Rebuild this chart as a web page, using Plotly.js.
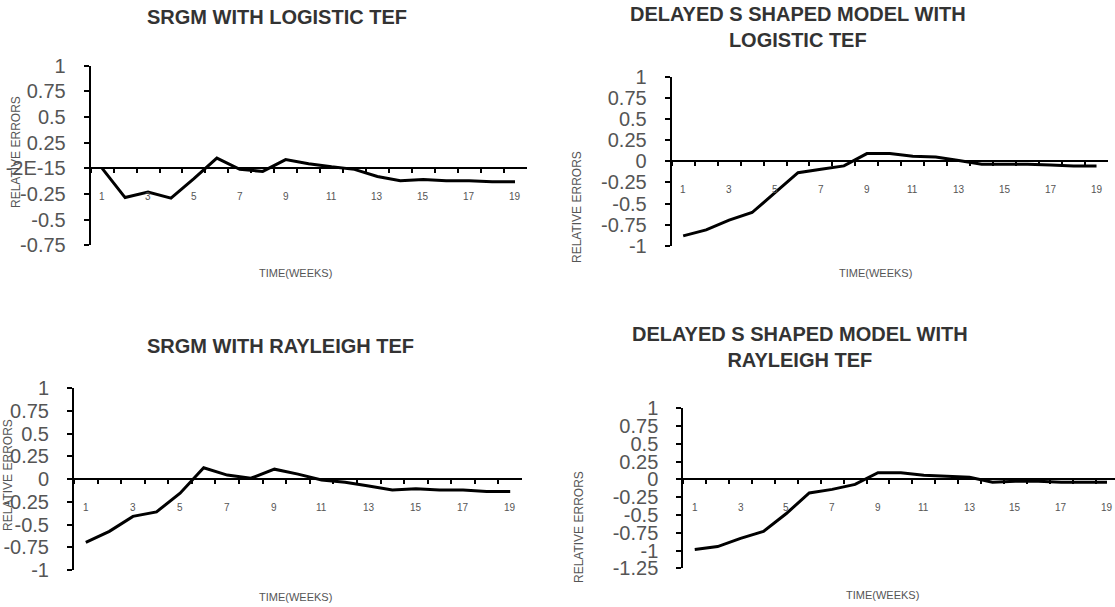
<!DOCTYPE html>
<html>
<head>
<meta charset="utf-8">
<script src="https://cdn.plot.ly/plotly-3.0.1.min.js"></script>
<style>html,body{margin:0;padding:0;background:#fff;}#chart{width:1115px;height:607px;}</style>
</head>
<body>
<div id="chart"></div>
<script>
// ---- data ----
const weeks = [1,2,3,4,5,6,7,8,9,10,11,12,13,14,15,16,17,18,19];
const weekLabels = [1,3,5,7,9,11,13,15,17,19];
const srgmLogistic = [0, -0.285, -0.23, -0.29, -0.10, 0.10, -0.01, -0.03, 0.085, 0.045, 0.015, -0.01, -0.08, -0.12, -0.11, -0.12, -0.12, -0.13, -0.13];
const delayedLogistic = [-0.88, -0.81, -0.695, -0.605, -0.37, -0.135, -0.095, -0.055, 0.09, 0.09, 0.06, 0.05, 0.01, -0.035, -0.035, -0.035, -0.045, -0.055, -0.055];
const srgmRayleigh = [-0.695, -0.575, -0.41, -0.36, -0.155, 0.125, 0.045, 0.01, 0.11, 0.055, -0.01, -0.035, -0.075, -0.12, -0.105, -0.12, -0.12, -0.135, -0.135];
const delayedRayleigh = [-0.985, -0.945, -0.83, -0.73, -0.48, -0.19, -0.14, -0.07, 0.095, 0.095, 0.06, 0.04, 0.03, -0.04, -0.025, -0.025, -0.04, -0.04, -0.04];

const titles = ["SRGM WITH LOGISTIC TEF", "DELAYED S SHAPED MODEL WITH<br>LOGISTIC TEF", "SRGM WITH RAYLEIGH TEF", "DELAYED S SHAPED MODEL WITH<br>RAYLEIGH TEF"];
const yTitle = "RELATIVE ERRORS";
const xTitle = "TIME(WEEKS)";

const yTicks1 = [1, 0.75, 0.5, 0.25, 0, -0.25, -0.5, -0.75];
const yText1 = ["1", "0.75", "0.5", "0.25", "-2E-15", "-0.25", "-0.5", "-0.75"];
const yTicks2 = [1, 0.75, 0.5, 0.25, 0, -0.25, -0.5, -0.75, -1];
const yText2 = ["1", "0.75", "0.5", "0.25", "0", "-0.25", "-0.5", "-0.75", "-1"];
const yTicks4 = [1, 0.75, 0.5, 0.25, 0, -0.25, -0.5, -0.75, -1, -1.25];
const yText4 = ["1", "0.75", "0.5", "0.25", "0", "-0.25", "-0.5", "-0.75", "-1", "-1.25"];

// ---- layout geometry (pixels) ----
const W = 1115, H = 607;
const fx = p => p / W;
const fy = p => 1 - p / H;

const panels = [
  {series: srgmLogistic, x0: 90.7, x1: 526.5, yTop: 65.7, yBot: 245.3, yr: [-0.75, 1], xr: [0.5, 19.5], tv: yTicks1, tt: yText1,
   title: [277, 17], ytitle: [16, 152], xtitle: [295, 273]},
  {series: delayedLogistic, x0: 671.7, x1: 1108, yTop: 76.5, yBot: 246, yr: [-1, 1], xr: [0.5, 19.5], tv: yTicks2, tt: yText2,
   title: [798, 27], ytitle: [577, 207], xtitle: [875, 273]},
  {series: srgmRayleigh, x0: 74, x1: 522, yTop: 388.3, yBot: 570, yr: [-1, 1], xr: [0.5, 19.5], tv: yTicks2, tt: yText2,
   title: [280, 346], ytitle: [8, 475], xtitle: [295, 597]},
  {series: delayedRayleigh, x0: 683.3, x1: 1115, yTop: 408.3, yBot: 568.3, yr: [-1.25, 1], xr: [0.5, 19.35], tv: yTicks4, tt: yText4,
   title: [800, 347], ytitle: [579, 527], xtitle: [882, 595]}
];

const FONT = "Liberation Sans, Arial, sans-serif";
const traces = [];
const layout = {
  width: W, height: H,
  margin: {l: 0, r: 0, t: 0, b: 0},
  paper_bgcolor: "#ffffff", plot_bgcolor: "rgba(0,0,0,0)",
  showlegend: false,
  annotations: []
};

// Excel-style category axis: tick marks on the category boundaries,
// labels on every other category (placed in data coordinates below the zero line).
const boundaryTicks = weeks.map(w => w - 0.5);

panels.forEach((p, i) => {
  const n = i + 1;
  const sfx = n === 1 ? "" : String(n);
  const xa = "x" + sfx;
  const ya = "y" + sfx;
  traces.push({
    x: weeks, y: p.series, xaxis: xa, yaxis: ya,
    type: "scatter", mode: "lines",
    line: {color: "#000000", width: 3},
    hoverinfo: "skip"
  });
  const yd = [fy(p.yBot), fy(p.yTop)];
  const zeroPos = yd[0] + (yd[1] - yd[0]) * (0 - p.yr[0]) / (p.yr[1] - p.yr[0]);
  layout["xaxis" + sfx] = {
    domain: [fx(p.x0), fx(p.x1)],
    range: p.xr,
    anchor: "free",
    position: zeroPos,
    showline: true, linecolor: "#000000", linewidth: 2,
    showgrid: false, zeroline: false,
    tickmode: "array", tickvals: boundaryTicks,
    showticklabels: false,
    ticks: "outside", ticklen: 4, tickwidth: 2, tickcolor: "#000000",
    fixedrange: true
  };
  layout["yaxis" + sfx] = {
    domain: yd,
    range: p.yr,
    anchor: xa,
    showline: true, linecolor: "#000000", linewidth: 2,
    showgrid: false, zeroline: false,
    tickmode: "array", tickvals: p.tv, ticktext: p.tt,
    ticks: "outside", ticklen: 5, tickwidth: 2, tickcolor: "#000000",
    ticklabelstandoff: 14,
    tickfont: {family: FONT, size: 20, color: "#555555"},
    fixedrange: true
  };
  weekLabels.forEach(w => {
    layout.annotations.push({
      xref: xa, yref: ya, x: w, y: 0,
      xanchor: "center", yanchor: "middle", yshift: -28, showarrow: false,
      text: String(w),
      font: {family: FONT, size: 10, color: "#555555"}
    });
  });
  layout.annotations.push({
    xref: "paper", yref: "paper", x: fx(p.title[0]), y: fy(p.title[1]),
    xanchor: "center", yanchor: "middle", showarrow: false, align: "center",
    text: titles[i],
    font: {family: FONT, size: 20, color: "#333333", weight: "bold"}
  });
  layout.annotations.push({
    xref: "paper", yref: "paper", x: fx(p.ytitle[0]), y: fy(p.ytitle[1]),
    xanchor: "center", yanchor: "middle", showarrow: false, textangle: -90,
    text: yTitle,
    font: {family: FONT, size: 12, color: "#555555"}
  });
  layout.annotations.push({
    xref: "paper", yref: "paper", x: fx(p.xtitle[0]), y: fy(p.xtitle[1]),
    xanchor: "center", yanchor: "middle", showarrow: false,
    text: xTitle,
    font: {family: FONT, size: 11, color: "#555555"}
  });
});

Plotly.newPlot("chart", traces, layout, {displayModeBar: false, staticPlot: true});
</script>
</body>
</html>
